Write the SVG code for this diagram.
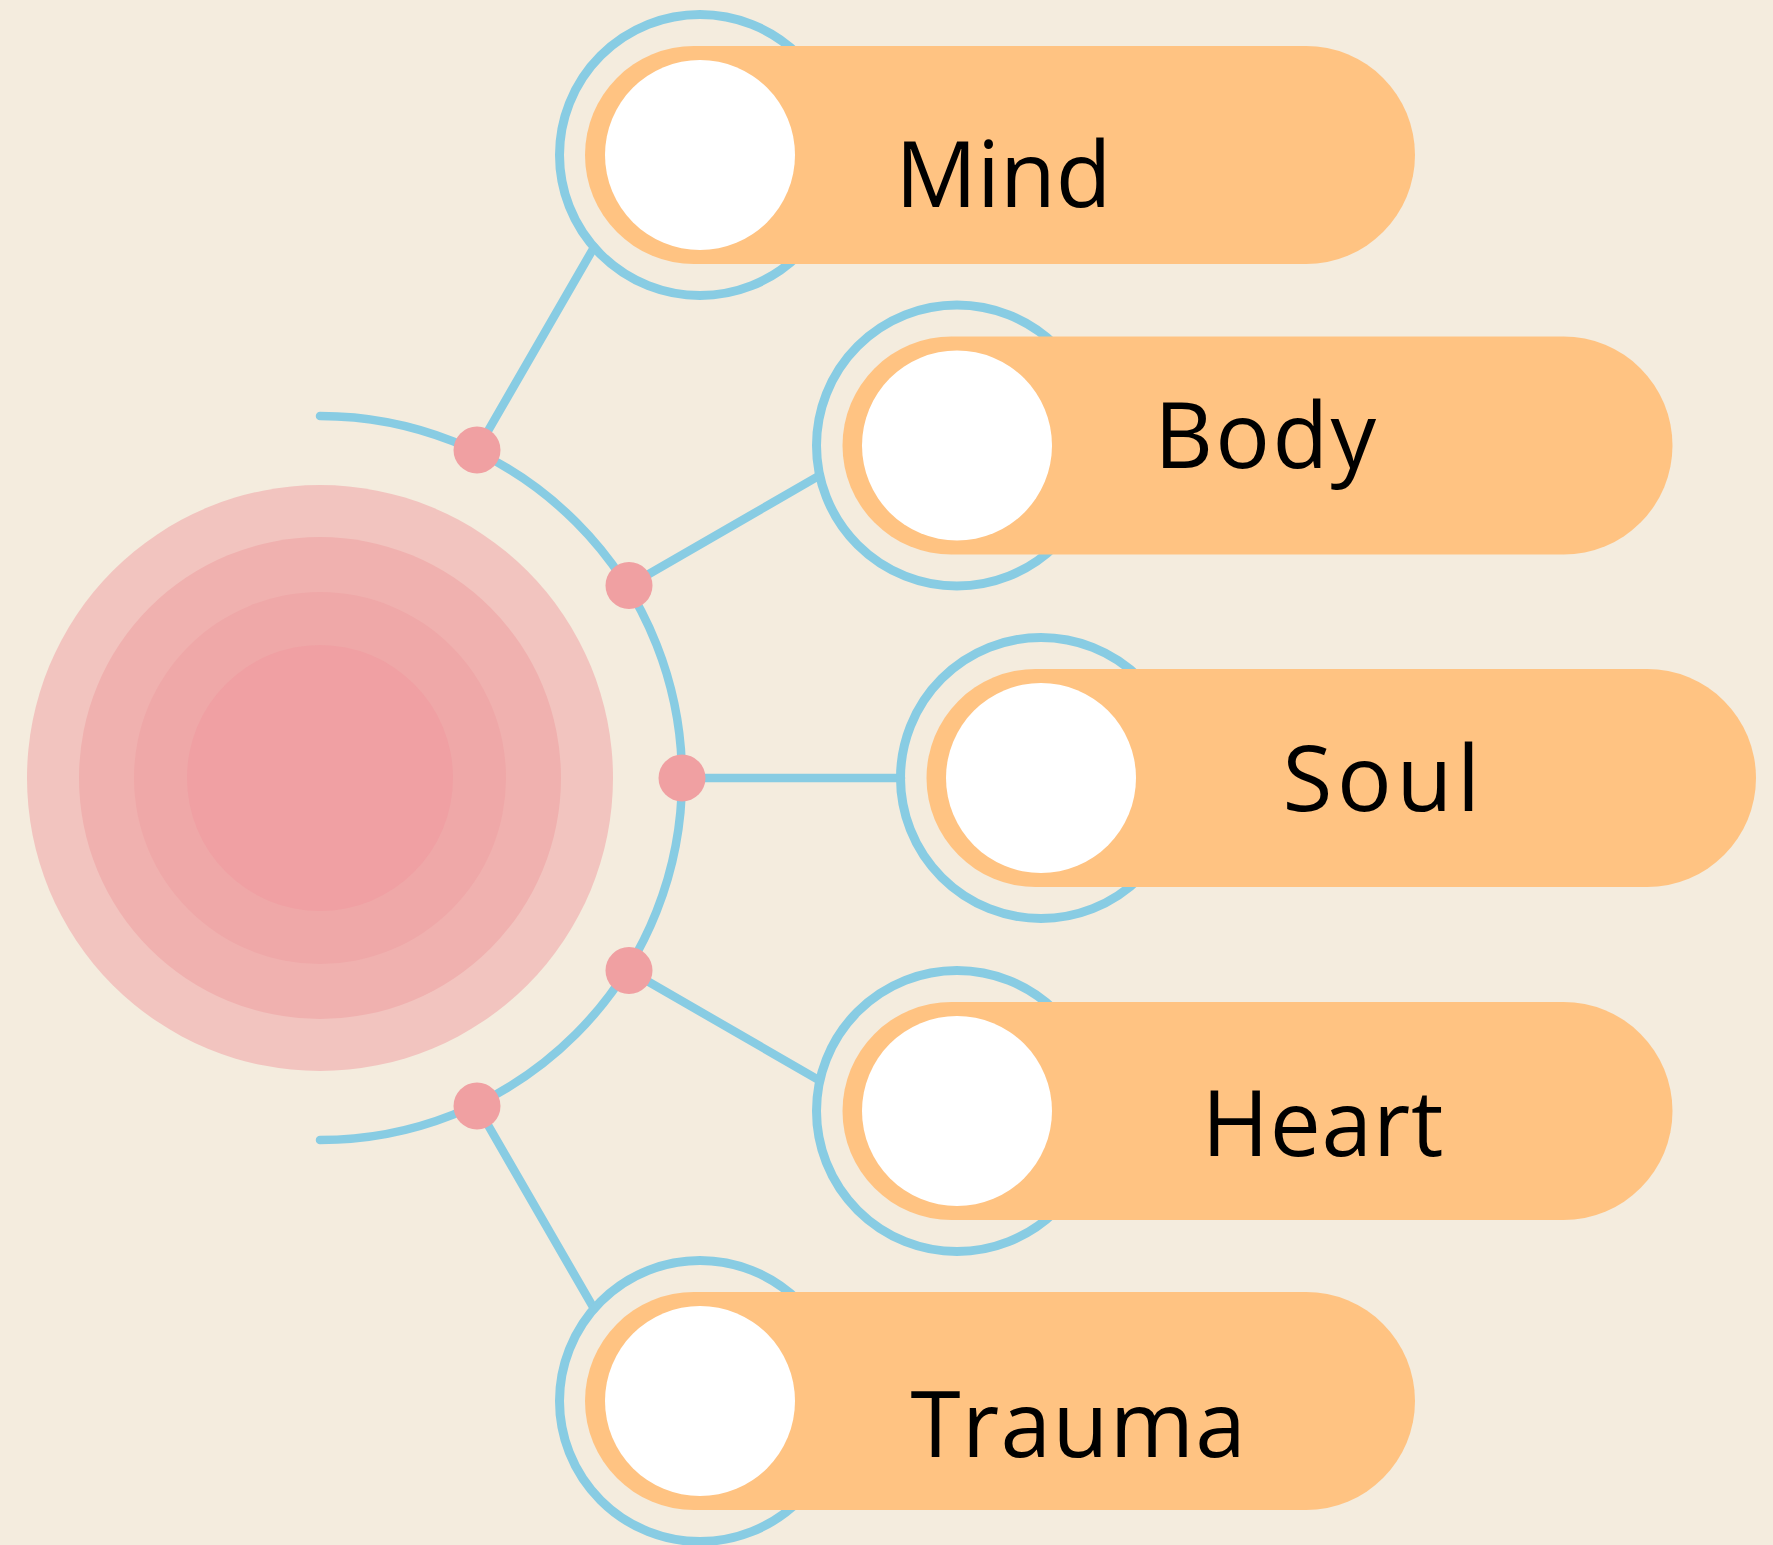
<svg xmlns="http://www.w3.org/2000/svg" width="1773" height="1545" viewBox="0 0 1773 1545">
<style>
.bl{fill:none;stroke:#88CCE3;stroke-width:8.5;stroke-linecap:round}
.ring{fill:none;stroke:#88CCE3;stroke-width:9}
.pill{fill:#FFC382}
.hole{fill:#FFFFFF}
.dot{fill:#F0A0A2}
.lbl{font-family:"Open Sans","Noto Sans","Liberation Sans",sans-serif;font-size:91px;fill:#000000}
</style>
<rect width="1773" height="1545" fill="#F4ECDE"/>
<g id="core">
<circle cx="320" cy="778" r="293" fill="#F2C4BF"/>
<circle cx="320" cy="778" r="241" fill="#F0B1AF"/>
<circle cx="320" cy="778" r="186" fill="#EFA8A8"/>
<circle cx="320" cy="778" r="133" fill="#F0A0A3"/>
</g>
<g id="connectors">
<path class="bl" d="M320 416 A362 362 0 0 1 320 1140"/>
<line class="bl" x1="477" y1="450" x2="594" y2="247.3"/>
<line class="bl" x1="629" y1="585.5" x2="819.7" y2="475.4"/>
<line class="bl" x1="682" y1="778" x2="901" y2="778"/>
<line class="bl" x1="629" y1="970.5" x2="819.7" y2="1080.6"/>
<line class="bl" x1="477" y1="1106" x2="594" y2="1308.7"/>
<circle class="dot" cx="477" cy="450" r="23.5"/>
<circle class="dot" cx="629" cy="585.5" r="23.5"/>
<circle class="dot" cx="682" cy="778" r="23.5"/>
<circle class="dot" cx="629" cy="970.5" r="23.5"/>
<circle class="dot" cx="477" cy="1106" r="23.5"/>
</g>
<g id="mind">
<circle class="ring" cx="700" cy="155" r="140.5"/>
<rect class="pill" x="585" y="46" width="830" height="218" rx="109"/>
<circle class="hole" cx="700" cy="155" r="95"/>
<text class="lbl" x="895.2" y="206.7">Mind</text>
</g>
<g id="body">
<circle class="ring" cx="957" cy="445.5" r="140.5"/>
<rect class="pill" x="842.5" y="336.5" width="830" height="218" rx="109"/>
<circle class="hole" cx="957" cy="445.5" r="95"/>
<text class="lbl" x="1154.2" y="467.7" letter-spacing="2.4">Body</text>
</g>
<g id="soul">
<circle class="ring" cx="1041" cy="778" r="140.5"/>
<rect class="pill" x="926.5" y="669" width="829.5" height="218" rx="109"/>
<circle class="hole" cx="1041" cy="778" r="95"/>
<text class="lbl" x="1282.5" y="811" letter-spacing="4.7">Soul</text>
</g>
<g id="heart">
<circle class="ring" cx="957" cy="1111" r="140.5"/>
<rect class="pill" x="842.5" y="1002" width="830" height="218" rx="109"/>
<circle class="hole" cx="957" cy="1111" r="95"/>
<text class="lbl" x="1201.8" y="1155.7" letter-spacing="0.8">Heart</text>
</g>
<g id="trauma">
<circle class="ring" cx="700" cy="1401" r="140.5"/>
<rect class="pill" x="585" y="1292" width="830" height="218" rx="109"/>
<circle class="hole" cx="700" cy="1401" r="95"/>
<text class="lbl" x="910.4" y="1457.3" letter-spacing="1.4">Trauma</text>
</g>
</svg>
